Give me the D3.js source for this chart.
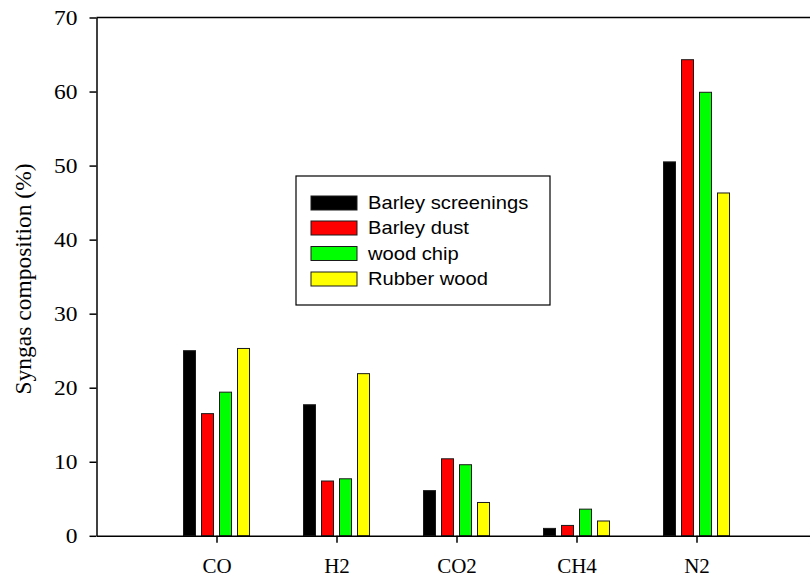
<!DOCTYPE html>
<html>
<head>
<meta charset="utf-8">
<script src="https://cdn.jsdelivr.net/npm/d3@7"></script>
<style>
  html, body { margin: 0; padding: 0; background: #fff; }
  svg { display: block; }
</style>
</head>
<body>
<div id="chart"></div>
<script>
const categories = ["CO", "H2", "CO2", "CH4", "N2"];
const seriesNames = ["Barley screenings", "Barley dust", "wood chip", "Rubber wood"];
const seriesColors = ["#000000", "#ff0000", "#00ff00", "#ffff00"];
const barleyScreenings = [25.0, 17.7, 6.1, 1.0, 50.5];
const barleyDust = [16.5, 7.4, 10.4, 1.4, 64.3];
const woodChip = [19.4, 7.7, 9.6, 3.6, 59.9];
const rubberWood = [25.3, 21.9, 4.5, 2.0, 46.3];
const seriesValues = [barleyScreenings, barleyDust, woodChip, rubberWood];
const yTicks = [0, 10, 20, 30, 40, 50, 60, 70];
const yLabel = "Syngas composition (%)";

const W = 810, H = 581;
const svg = d3.select("#chart").append("svg").attr("width", W).attr("height", H);

const x = d3.scaleLinear().domain([0, 6]).range([96.5, 816.5]);
const y = d3.scaleLinear().domain([0, 70]).range([535.8, 17.5]);
const serif = "'Liberation Serif', 'Times New Roman', serif";
const sans = "'Liberation Sans', Arial, sans-serif";

// frame top line
svg.append("line").attr("x1", x(0)).attr("x2", x(6)).attr("y1", y(70)).attr("y2", y(70))
  .attr("stroke", "#000").attr("stroke-width", 1.5);
svg.append("line").attr("x1", x(6)).attr("x2", x(6)).attr("y1", y(70)).attr("y2", y(0))
  .attr("stroke", "#000").attr("stroke-width", 1.5);

// bars
const bw = 12;
const offsets = [-27, -9, 9, 27];
seriesValues.forEach((vals, si) => {
  svg.append("g").selectAll("rect").data(vals).join("rect")
    .attr("x", (d, i) => x(i + 1) + offsets[si] - bw / 2)
    .attr("y", d => y(d))
    .attr("width", bw)
    .attr("height", d => y(0) - y(d))
    .attr("fill", seriesColors[si])
    .attr("stroke", "#1a1a1a")
    .attr("stroke-width", 1);
});

// y axis
const yAxis = svg.append("g").attr("transform", `translate(${x(0)},0)`)
  .call(d3.axisLeft(y).tickValues(yTicks).tickSize(7).tickPadding(12).tickSizeOuter(0));
yAxis.select(".domain").attr("stroke-width", 1.5);
yAxis.selectAll(".tick line").attr("stroke-width", 1.5);
yAxis.selectAll("text")
  .attr("x", 0)
  .attr("transform", "translate(-19,0) scale(1.12,1)")
  .attr("font-family", serif).attr("font-size", 21).attr("fill", "#000");

// x axis
const xAxis = svg.append("g").attr("transform", `translate(0,${y(0)})`)
  .call(d3.axisBottom(x).tickValues([1, 2, 3, 4, 5]).tickFormat(d => categories[d - 1])
    .tickSize(7).tickPadding(15).tickSizeOuter(0));
xAxis.select(".domain").attr("stroke-width", 1.5);
xAxis.selectAll(".tick line").attr("stroke-width", 1.5);
xAxis.selectAll("text").attr("font-family", serif).attr("font-size", 21).attr("fill", "#000");

// y label
svg.append("text")
  .attr("transform", `translate(31,279) rotate(-90)`)
  .attr("text-anchor", "middle")
  .attr("font-family", serif).attr("font-size", 23.5)
  .text(yLabel);

// legend
const lg = svg.append("g");
lg.append("rect").attr("x", 296).attr("y", 176).attr("width", 254).attr("height", 129)
  .attr("fill", "#fff").attr("stroke", "#000").attr("stroke-width", 1.2);
const rowY = [203, 228, 253.5, 279];
seriesNames.forEach((name, i) => {
  lg.append("rect").attr("x", 311).attr("y", rowY[i] - 7).attr("width", 46).attr("height", 14)
    .attr("fill", seriesColors[i]).attr("stroke", "#1a1a1a").attr("stroke-width", 1);
  lg.append("text")
    .attr("transform", `translate(368,${rowY[i]}) scale(1.12,1)`)
    .attr("dy", "0.36em")
    .attr("font-family", sans).attr("font-size", 18).text(name);
});
</script>
</body>
</html>
